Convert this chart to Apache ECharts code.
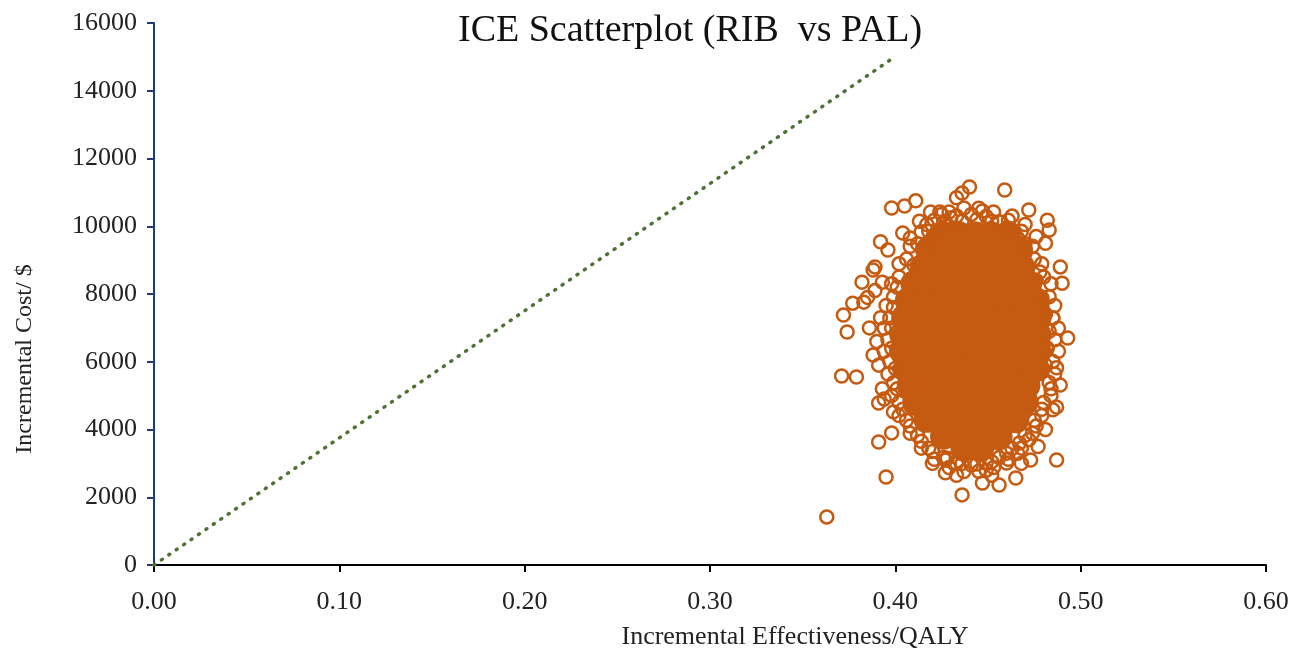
<!DOCTYPE html>
<html>
<head>
<meta charset="utf-8">
<script src="https://cdn.jsdelivr.net/npm/echarts@6/dist/echarts.min.js"></script>
<style>
	html, body { margin: 0; padding: 0; background: #fff; }
	#chart { width: 1306px; height: 656px; }
</style>
</head>
<body>
<div id="chart"></div>
<script>
// axis ticks
const xTicks = [0, 0.1, 0.2, 0.3, 0.4, 0.5, 0.6];
const yTicks = [0, 2000, 4000, 6000, 8000, 10000, 12000, 14000, 16000];

// willingness-to-pay threshold line (dotted)
const thresholdLine = [[0, 0], [0.397, 14900]];

// dense centre of the cloud, read row by row
const denseCore = [
	[0.425, 9750], [0.434, 9760], [0.443, 9750], [0.452, 9740], [0.461, 9760],
	[0.418, 9300], [0.427, 9310], [0.436, 9290], [0.445, 9300], [0.454, 9310], [0.463, 9300], [0.467, 9290],
	[0.415, 8800], [0.424, 8790], [0.433, 8810], [0.442, 8800], [0.451, 8800], [0.460, 8790], [0.468, 8810],
	[0.410, 8300], [0.419, 8310], [0.428, 8300], [0.437, 8290], [0.446, 8300], [0.455, 8310], [0.464, 8300], [0.472, 8300],
	[0.407, 7800], [0.416, 7800], [0.425, 7810], [0.434, 7800], [0.443, 7790], [0.452, 7800], [0.461, 7800], [0.470, 7810], [0.476, 7800],
	[0.405, 7300], [0.414, 7300], [0.423, 7290], [0.432, 7300], [0.441, 7310], [0.450, 7300], [0.459, 7300], [0.468, 7290], [0.477, 7300],
	[0.404, 6800], [0.413, 6800], [0.422, 6810], [0.431, 6800], [0.440, 6790], [0.449, 6800], [0.458, 6800], [0.467, 6810], [0.477, 6800],
	[0.404, 6300], [0.413, 6300], [0.422, 6290], [0.431, 6300], [0.440, 6310], [0.449, 6300], [0.458, 6300], [0.467, 6290], [0.477, 6300],
	[0.406, 5800], [0.415, 5800], [0.424, 5810], [0.433, 5800], [0.442, 5790], [0.451, 5800], [0.460, 5800], [0.469, 5810], [0.476, 5800],
	[0.408, 5300], [0.417, 5300], [0.426, 5290], [0.435, 5300], [0.444, 5310], [0.453, 5300], [0.462, 5300], [0.471, 5300],
	[0.411, 4800], [0.420, 4800], [0.429, 4810], [0.438, 4800], [0.447, 4790], [0.456, 4800], [0.465, 4800], [0.470, 4810],
	[0.417, 4300], [0.426, 4300], [0.435, 4290], [0.444, 4300], [0.453, 4310], [0.462, 4300], [0.465, 4290],
	[0.426, 3800], [0.435, 3800], [0.444, 3810], [0.453, 3800], [0.456, 3790],
	[0.437, 3450], [0.446, 3440]
];

// overlapping rings just outside the solid centre
const cloudFringe = [
	[0.481, 5900], [0.482, 6400], [0.483, 6900], [0.481, 7400], [0.479, 7900], [0.476, 8400],
	[0.478, 8650], [0.484, 5200], [0.479, 4600], [0.476, 4100], [0.472, 3700], [0.466, 3300],
	[0.470, 9200], [0.466, 9650], [0.460, 9950], [0.452, 10150], [0.444, 10200], [0.436, 10150],
	[0.428, 10000], [0.421, 9700], [0.415, 9300], [0.410, 8850], [0.463, 10300], [0.447, 10450],
	[0.430, 10250], [0.417, 10050], [0.408, 9650], [0.413, 10150], [0.425, 10350], [0.470, 10050],
	[0.476, 9700], [0.401, 8200], [0.399, 7600], [0.398, 7000], [0.398, 6400], [0.400, 5800],
	[0.401, 5200], [0.404, 4600], [0.408, 4100], [0.392, 7300], [0.390, 6600], [0.391, 5900],
	[0.393, 5200], [0.388, 6200], [0.394, 4900], [0.386, 7000], [0.385, 7900], [0.389, 8100],
	[0.414, 3650], [0.420, 3350], [0.428, 3150], [0.436, 3000], [0.444, 2980], [0.452, 3050],
	[0.460, 3300], [0.467, 3600], [0.420, 3000], [0.433, 2650], [0.452, 2650], [0.468, 3000],
	[0.477, 3500], [0.481, 4000]
];

// ring of points around the edge of the cloud
const cloudEdge = [
	[0.486, 6650], [0.485, 7290], [0.483, 7920], [0.480, 8500], [0.475, 9030], [0.470, 9480],
	[0.463, 9860], [0.456, 10130], [0.449, 10290], [0.441, 10350], [0.433, 10300], [0.426, 10130],
	[0.418, 9850], [0.412, 9480], [0.406, 9030], [0.402, 8500], [0.399, 7910], [0.397, 7290],
	[0.396, 6650], [0.397, 6010], [0.399, 5380], [0.402, 4800], [0.406, 4270], [0.412, 3820],
	[0.418, 3450], [0.426, 3170], [0.433, 3000], [0.441, 2950], [0.449, 3010], [0.456, 3170],
	[0.463, 3440], [0.470, 3820], [0.475, 4270], [0.480, 4800], [0.483, 5390], [0.485, 6010],
	[0.488, 6990], [0.486, 7660], [0.484, 8300], [0.479, 8890], [0.474, 9410], [0.468, 9850],
	[0.461, 10180], [0.453, 10420], [0.445, 10530], [0.437, 10540], [0.429, 10420], [0.421, 10180],
	[0.414, 9840], [0.408, 9410], [0.402, 8890], [0.398, 8300], [0.395, 7660], [0.394, 6990],
	[0.394, 6310], [0.396, 5640], [0.398, 5000], [0.402, 4410], [0.408, 3890], [0.414, 3450],
	[0.421, 3120], [0.429, 2880], [0.437, 2760], [0.445, 2770], [0.453, 2880], [0.461, 3120],
	[0.468, 3450], [0.474, 3890], [0.479, 4410], [0.484, 5000], [0.486, 5640], [0.488, 6310]
];

// scattered single points outside the cloud
const outliers = [
	[0.363, 1420], [0.371, 5580], [0.379, 5550], [0.372, 7380], [0.377, 7730], [0.383, 7760],
	[0.374, 6880], [0.382, 8350], [0.388, 8710], [0.393, 8350], [0.392, 9540], [0.396, 9300],
	[0.389, 8800], [0.404, 9800], [0.398, 10540], [0.405, 10600], [0.411, 10750], [0.419, 10420],
	[0.424, 10420], [0.433, 10840], [0.436, 10980], [0.440, 11160], [0.459, 11070], [0.472, 10480],
	[0.482, 10180], [0.483, 9890], [0.481, 9500], [0.489, 8800], [0.490, 8320], [0.485, 7290],
	[0.493, 6700], [0.487, 5820], [0.489, 5310], [0.487, 4660], [0.485, 4580], [0.487, 3100],
	[0.473, 3100], [0.465, 2570], [0.460, 3010], [0.456, 2360], [0.449, 2800], [0.447, 2420],
	[0.436, 2070], [0.427, 2720], [0.427, 3100], [0.395, 2600], [0.391, 3630], [0.398, 3900],
	[0.391, 4780], [0.399, 4520]
];

const chart = echarts.init(document.getElementById("chart"), null, { renderer: "canvas" });

const serif = "'Liberation Serif', 'Times New Roman', serif";
const orange = "#C55A11";
const ringStyle = {
	color: "rgba(0,0,0,0)",
	borderColor: orange,
	borderWidth: 2.5,
	opacity: 1,
};

const ringSeries = (name, data) => ({
	name,
	type: "scatter",
	data,
	symbol: "circle",
	symbolSize: 13,
	itemStyle: ringStyle,
	z: 3,
});

const option = {
	animation: false,
	backgroundColor: "#fff",
	title: {
		text: "ICE Scatterplot (RIB  vs PAL)",
		left: 453,
		top: 7,
		textStyle: {
			fontFamily: serif,
			fontSize: 38,
			fontWeight: "normal",
			color: "#111",
		},
	},
	grid: { left: 154, right: 40, top: 23, bottom: 91 },
	xAxis: {
		type: "value",
		min: xTicks[0],
		max: xTicks[xTicks.length - 1],
		interval: 0.1,
		name: "Incremental Effectiveness/QALY",
		nameLocation: "middle",
		nameGap: 59,
		nameTextStyle: {
			fontFamily: serif,
			fontSize: 26,
			color: "#222",
			padding: [0, 0, 0, 170],
		},
		axisLine: { lineStyle: { color: "#000", width: 2 } },
		axisTick: { length: 7, lineStyle: { color: "#000", width: 2 } },
		axisLabel: {
			fontFamily: serif,
			fontSize: 26,
			color: "#222",
			margin: 24,
			formatter: (v) => v.toFixed(2),
		},
		splitLine: { show: false },
	},
	yAxis: {
		type: "value",
		min: yTicks[0],
		max: yTicks[yTicks.length - 1],
		interval: 2000,
		name: "Incremental Cost/ $",
		nameLocation: "middle",
		nameGap: 117,
		nameTextStyle: {
			fontFamily: serif,
			fontSize: 24,
			color: "#222",
			padding: [0, 130, 0, 0],
		},
		axisLine: { show: true, lineStyle: { color: "#1F3B73", width: 2 } },
		axisTick: { show: true, length: 7, lineStyle: { color: "#1F3B73", width: 2 } },
		axisLabel: {
			fontFamily: serif,
			fontSize: 26,
			color: "#222",
			margin: 17,
			formatter: (v) => String(v),
		},
		splitLine: { show: false },
	},
	series: [
		{
			name: "Threshold",
			type: "line",
			data: thresholdLine,
			showSymbol: false,
			lineStyle: { color: "#4E7136", width: 3.5, type: [1, 8], cap: "round" },
			z: 1,
		},
		{
			name: "Core",
			type: "scatter",
			data: denseCore,
			symbol: "circle",
			symbolSize: 27,
			itemStyle: { color: orange, opacity: 1 },
			z: 2,
		},
		ringSeries("Fringe", cloudFringe),
		ringSeries("Edge", cloudEdge),
		ringSeries("Outliers", outliers),
	],
};

chart.setOption(option);
</script>
</body>
</html>
